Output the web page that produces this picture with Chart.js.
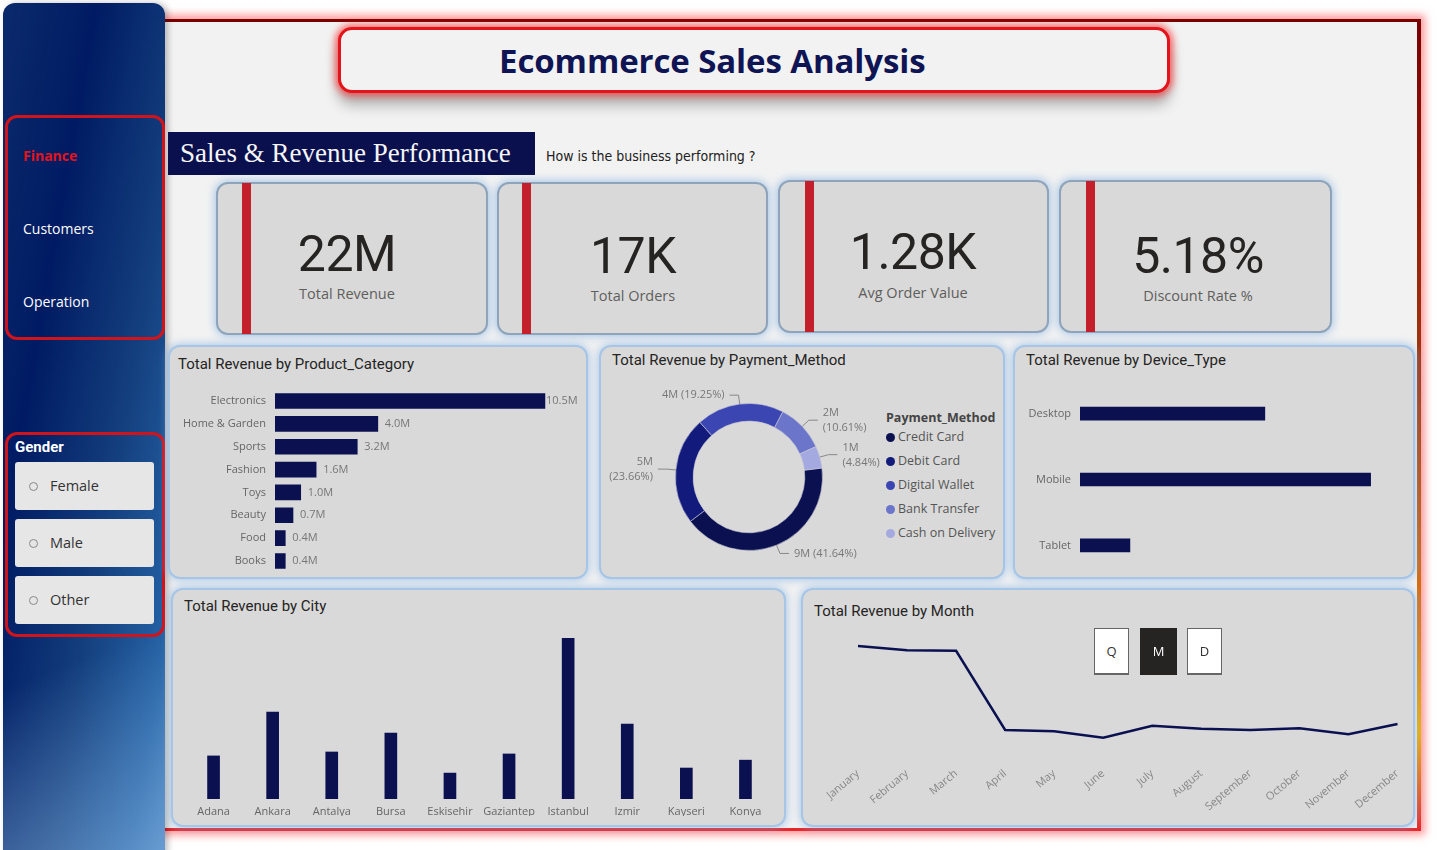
<!DOCTYPE html>
<html>
<head>
<title>Ecommerce Sales Analysis</title>
<script src="https://cdn.jsdelivr.net/npm/chart.js"></script>
<style>
    body { margin: 0; width: 1438px; height: 850px; background: #ffffff; position: relative; overflow: hidden; font-family: 'Roboto', sans-serif; }
    .abs { position: absolute; }
    .sidebar { left: 3px; top: 3px; width: 162px; height: 860px; border-radius: 12px;
        background: linear-gradient(100deg, #0b2a6c 0%, #001b63 30%, #143f7e 62%, #2563a6 88%, #3f7dbd 100%);
        box-shadow: 3px 0 6px rgba(0,0,0,0.25); }
    .sidebar-glow { left: 3px; top: 500px; width: 162px; height: 360px; border-radius: 12px;
        background: linear-gradient(160deg, rgba(255,255,255,0) 45%, rgba(160,200,240,0.45) 100%); }
    .redbox { border: 3px solid #d0141c; border-radius: 12px; box-sizing: border-box; }
    .nav { color: #fff; font-family: 'Open Sans', sans-serif; font-size: 14px; left: 23px; }
    .main { left: 162px; top: 19px; width: 1259px; height: 812px; background: #f2f2f2; box-sizing: border-box;
        border: 3px solid #e8262c; border-top-color: #7a0000; border-left: none;
        box-shadow: 0 0 8px 4px rgba(255,70,70,0.55); }
    .rightedge { left: 1417px; top: 19px; width: 4px; height: 812px;
        background: linear-gradient(180deg, #7a0000 0%, #a43a10 45%, #e07a10 75%, #f2b400 88%, #e8262c 100%); }
    .titlebox { left: 338px; top: 27px; width: 832px; height: 66px; background: #f2f2f2; border: 3px solid #e3141c;
        border-radius: 14px; box-sizing: border-box; box-shadow: 0 0 7px 3px rgba(255,40,40,0.65), 0 12px 14px rgba(0,0,0,0.28); }
    .title { left: 499px; top: 38px; font-family: 'Open Sans', sans-serif; font-weight: 700; font-size: 33px; color: #0f1454; letter-spacing: -0.1px; }
    .banner { left: 168px; top: 132px; width: 367px; height: 43px; background: #0a0f4e; color: #f5f5f5;
        font-family: 'Liberation Serif', serif; font-size: 27px; line-height: 42px; padding-left: 12px; box-sizing: border-box; }
    .question { left: 546px; top: 148px; font-family: 'DejaVu Sans Condensed', sans-serif; font-size: 14px; color: #222; }
    .card { background: #d9d9d9; border-radius: 10px; box-sizing: border-box;
        box-shadow: 0 0 0 2px #8fa4ba, 0 0 8px 3px rgba(120,170,225,0.65); }
    .redbar { width: 9px; background: #c4202c; }
    .kval { font-family: 'Roboto', sans-serif; font-size: 50px; color: #252423; text-align: center; width: 268px; letter-spacing: -0.5px; }
    .klab { font-family: 'Open Sans', sans-serif; font-size: 14.5px; color: #605e5c; text-align: center; width: 268px; }
    .panel { background: #d9d9d9; border-radius: 10px; box-sizing: border-box;
        box-shadow: 0 0 0 2px #a7c6e6, 0 0 8px 3px rgba(120,170,225,0.6); }
    .ptitle { font-family: 'Roboto', sans-serif; font-size: 15px; color: #252423; }
    .gbtn { left: 15px; width: 139px; height: 48px; background: #e6e6e6; border-radius: 3px; }
    .gbtn span.dot { position: absolute; left: 14px; top: 20px; width: 7px; height: 7px; border: 1px solid #888; border-radius: 50%; }
    .gbtn span.txt { position: absolute; left: 35px; top: 14px; font-family: 'Open Sans', sans-serif; font-size: 14.5px; color: #333; }
    .legend-title { left: 886px; top: 409px; font-family: 'Open Sans', sans-serif; font-weight: 700; font-size: 12.5px; color: #444; }
    .legend-item { left: 886px; font-family: 'Open Sans', sans-serif; font-size: 12.5px; color: #555; }
    .legend-item i { display: inline-block; width: 9px; height: 9px; border-radius: 50%; margin-right: 3px; vertical-align: -1px; }
    .qbtn { top: 628px; height: 47px; background: #fff; box-sizing: border-box; border: 1px solid #666; border-bottom-width: 2px;
        font-family: 'Open Sans', sans-serif; font-size: 13px; color: #333; text-align: center; line-height: 45px; }
</style>
</head>
<body>
<div class="abs main"></div>
<div class="abs rightedge"></div>
<div class="abs sidebar"></div>
<div class="abs sidebar-glow"></div>

<div class="abs redbox" style="left:5px; top:115px; width:160px; height:225px;"></div>
<div class="abs nav" style="top:146px; color:#e3141c; font-weight:700;">Finance</div>
<div class="abs nav" style="top:219px;">Customers</div>
<div class="abs nav" style="top:292px;">Operation</div>

<div class="abs redbox" style="left:5px; top:432px; width:160px; height:205px;"></div>
<div class="abs" style="left:15px; top:438px; color:#fff; font-family:'Roboto',sans-serif; font-weight:700; font-size:15px;">Gender</div>
<div class="abs gbtn" style="top:462px;"><span class="dot"></span><span class="txt">Female</span></div>
<div class="abs gbtn" style="top:519px;"><span class="dot"></span><span class="txt">Male</span></div>
<div class="abs gbtn" style="top:576px;"><span class="dot"></span><span class="txt">Other</span></div>

<div class="abs titlebox"></div>
<div class="abs title">Ecommerce Sales Analysis</div>
<div class="abs banner">Sales &amp; Revenue Performance</div>
<div class="abs question">How is the business performing ?</div>

<div class="abs card" style="left:218px; top:184px; width:268px; height:149px;"></div>
<div class="abs redbar" style="left:242px; top:183px; height:151px;"></div>
<div class="abs kval" style="left:213px; top:225px;">22M</div>
<div class="abs klab" style="left:213px; top:284px;">Total Revenue</div>

<div class="abs card" style="left:499px; top:184px; width:267px; height:149px;"></div>
<div class="abs redbar" style="left:522px; top:183px; height:151px;"></div>
<div class="abs kval" style="left:499px; top:227px;">17K</div>
<div class="abs klab" style="left:499px; top:286px;">Total Orders</div>

<div class="abs card" style="left:780px; top:182px; width:267px; height:149px;"></div>
<div class="abs redbar" style="left:805px; top:181px; height:151px;"></div>
<div class="abs kval" style="left:779px; top:223px;">1.28K</div>
<div class="abs klab" style="left:779px; top:283px;">Avg Order Value</div>

<div class="abs card" style="left:1061px; top:182px; width:269px; height:149px;"></div>
<div class="abs redbar" style="left:1086px; top:181px; height:151px;"></div>
<div class="abs kval" style="left:1064px; top:227px;">5.18%</div>
<div class="abs klab" style="left:1064px; top:286px;">Discount Rate %</div>

<div class="abs panel" style="left:170px; top:347px; width:416px; height:230px;"></div>
<div class="abs ptitle" style="left:178px; top:355px;">Total Revenue by Product_Category</div>
<div class="abs panel" style="left:601px; top:347px; width:402px; height:230px;"></div>
<div class="abs ptitle" style="left:612px; top:351px;">Total Revenue by Payment_Method</div>
<div class="abs panel" style="left:1015px; top:347px; width:398px; height:230px;"></div>
<div class="abs ptitle" style="left:1026px; top:351px;">Total Revenue by Device_Type</div>
<div class="abs panel" style="left:173px; top:590px; width:611px; height:235px;"></div>
<div class="abs ptitle" style="left:184px; top:597px;">Total Revenue by City</div>
<div class="abs panel" style="left:803px; top:590px; width:610px; height:235px;"></div>
<div class="abs ptitle" style="left:814px; top:602px;">Total Revenue by Month</div>

<div class="abs legend-title">Payment_Method</div>
<div id="legend"></div>

<div class="abs" style="left:175px; top:374px; width:410px; height:214px;"><canvas id="categoryChart"></canvas></div>
<div class="abs" style="left:603px; top:372px; width:280px; height:205px;"><canvas id="paymentChart"></canvas></div>
<div class="abs" style="left:1015px; top:365px; width:385px; height:229px;"><canvas id="deviceChart"></canvas></div>
<div class="abs" style="left:184px; top:616px; width:591px; height:200px;"><canvas id="cityChart"></canvas></div>
<div class="abs" style="left:808px; top:631px; width:602px; height:184px;"><canvas id="monthChart"></canvas></div>

<div class="abs qbtn" style="left:1094px; width:35px;">Q</div>
<div class="abs qbtn" style="left:1140px; width:37px; background:#252423; color:#fff; border-color:#252423;">M</div>
<div class="abs qbtn" style="left:1187px; width:35px;">D</div>

<script>
    // data (revenue in millions)
    const categoryLabels = ['Electronics', 'Home & Garden', 'Sports', 'Fashion', 'Toys', 'Beauty', 'Food', 'Books'];
    const categoryRevenue = [10.5, 4.0, 3.2, 1.6, 1.0, 0.7, 0.4, 0.4];

    const paymentLabels = ['Credit Card', 'Debit Card', 'Digital Wallet', 'Bank Transfer', 'Cash on Delivery'];
    const paymentRevenue = [9.161, 5.205, 4.235, 2.334, 1.065];

    const deviceLabels = ['Desktop', 'Mobile', 'Tablet'];
    const deviceRevenue = [7.74, 12.17, 2.09];

    const cityLabels = ['Adana', 'Ankara', 'Antalya', 'Bursa', 'Eskisehir', 'Gaziantep', 'Istanbul', 'Izmir', 'Kayseri', 'Konya'];
    const cityRevenue = [1.53, 3.09, 1.67, 2.34, 0.92, 1.60, 5.71, 2.66, 1.10, 1.38];

    const monthLabels = ['January', 'February', 'March', 'April', 'May', 'June', 'July', 'August', 'September', 'October', 'November', 'December'];
    const monthRevenue = [2.95, 2.88, 2.87, 1.55, 1.53, 1.42, 1.62, 1.57, 1.55, 1.58, 1.48, 1.65];

    const navy = '#0b1150';
    const paymentColors = ['#0b1150', '#121b7c', '#3b46b2', '#6b75c9', '#a4aae0'];

    Chart.defaults.font.family = "'Open Sans', sans-serif";
    Chart.defaults.font.size = 11;
    Chart.defaults.color = '#666';
    Chart.defaults.animation = false;
    Chart.defaults.plugins.legend.display = false;
    Chart.defaults.plugins.tooltip.enabled = false;

    // legend for payment method
    let legendHtml = '';
    paymentLabels.forEach(function (lab, i) {
        const top = 428 + i * 24;
        legendHtml += '<div class="abs legend-item" style="top:' + top + 'px;"><i style="background:' + paymentColors[i] + '"></i>' + lab + '</div>';
    });
    document.getElementById('legend').innerHTML = legendHtml;

    // value labels at bar ends
    const barValueLabels = {
        id: 'barValueLabels',
        afterDatasetsDraw(chart) {
            const ctx = chart.ctx;
            const meta = chart.getDatasetMeta(0);
            ctx.save();
            ctx.font = "11px 'Open Sans', sans-serif";
            ctx.fillStyle = '#777';
            ctx.textBaseline = 'middle';
            meta.data.forEach(function (bar, i) {
                const v = chart.data.datasets[0].data[i];
                ctx.fillText(v.toFixed(1) + 'M', bar.x + (i === 0 ? 1 : 7), bar.y);
            });
            ctx.restore();
        }
    };

    // outside labels with leader lines for the doughnut
    const donutLabels = {
        id: 'donutLabels',
        afterDatasetsDraw(chart) {
            const ctx = chart.ctx;
            const data = chart.data.datasets[0].data;
            const total = data.reduce((a, b) => a + b, 0);
            ctx.save();
            ctx.font = "11px 'Open Sans', sans-serif";
            ctx.fillStyle = '#777';
            ctx.strokeStyle = '#888';
            ctx.lineWidth = 1;
            ctx.textBaseline = 'middle';
            chart.getDatasetMeta(0).data.forEach(function (arc, i) {
                const mid = (arc.startAngle + arc.endAngle) / 2;
                const cx = Math.cos(mid), sy = Math.sin(mid);
                const r = arc.outerRadius;
                const x0 = arc.x + cx * r, y0 = arc.y + sy * r;
                const x1 = arc.x + cx * (r + 9), y1 = arc.y + sy * (r + 9);
                const side = cx >= 0 ? 1 : -1;
                const x2 = x1 + side * 9;
                ctx.beginPath();
                ctx.moveTo(x0, y0);
                ctx.lineTo(x1, y1);
                ctx.lineTo(x2, y1);
                ctx.stroke();
                ctx.textAlign = side > 0 ? 'left' : 'right';
                const val = Math.round(data[i]) + 'M';
                const pct = '(' + (data[i] / total * 100).toFixed(2) + '%)';
                const tx = x2 + side * 5;
                if (Math.abs(cx) > 0.5) {
                    ctx.fillText(val, tx, y1 - 7);
                    ctx.fillText(pct, tx, y1 + 8);
                } else {
                    ctx.fillText(val + ' ' + pct, tx, y1);
                }
            });
            ctx.restore();
        }
    };

    // product category
    new Chart(document.getElementById('categoryChart'), {
        type: 'bar',
        data: {
            labels: categoryLabels,
            datasets: [{ data: categoryRevenue, backgroundColor: navy, barThickness: 15 }]
        },
        options: {
            indexAxis: 'y',
            responsive: true,
            maintainAspectRatio: false,
            layout: { padding: { right: 10 } },
            scales: {
                x: { display: false, min: 0, max: 11.67 },
                y: {
                    grid: { display: false, drawTicks: false },
                    border: { display: false },
                    ticks: { padding: 9, color: '#666' },
                    afterFit(scale) { scale.width = 100; }
                }
            }
        },
        plugins: [barValueLabels]
    });

    // payment method
    new Chart(document.getElementById('paymentChart'), {
        type: 'doughnut',
        data: {
            labels: paymentLabels,
            datasets: [{ data: paymentRevenue, backgroundColor: paymentColors, borderWidth: 1, borderColor: 'rgba(200,200,215,0.6)' }]
        },
        options: {
            responsive: true,
            maintainAspectRatio: false,
            rotation: 83,
            cutout: '76%',
            layout: { padding: { left: 72, right: 60, top: 31, bottom: 26 } }
        },
        plugins: [donutLabels]
    });

    // device type
    new Chart(document.getElementById('deviceChart'), {
        type: 'bar',
        data: {
            labels: deviceLabels,
            datasets: [{ data: deviceRevenue, backgroundColor: navy, barThickness: 13 }]
        },
        options: {
            indexAxis: 'y',
            responsive: true,
            maintainAspectRatio: false,
            scales: {
                x: { display: false, min: 0, max: 13.4 },
                y: {
                    grid: { display: false, drawTicks: false },
                    border: { display: false },
                    ticks: { padding: 9, color: '#666' },
                    afterFit(scale) { scale.width = 65; }
                }
            }
        }
    });

    // city
    new Chart(document.getElementById('cityChart'), {
        type: 'bar',
        data: {
            labels: cityLabels,
            datasets: [{ data: cityRevenue, backgroundColor: navy, barThickness: 12 }]
        },
        options: {
            responsive: true,
            maintainAspectRatio: false,
            scales: {
                y: { display: false, min: 0, max: 6.5 },
                x: {
                    grid: { display: false, drawTicks: false },
                    border: { display: false },
                    ticks: { padding: 6, color: '#666', maxRotation: 0 },
                    afterFit(scale) { scale.height = 17; }
                }
            }
        }
    });

    // month
    new Chart(document.getElementById('monthChart'), {
        type: 'line',
        data: {
            labels: monthLabels,
            datasets: [{ data: monthRevenue, borderColor: navy, borderWidth: 2.5, pointRadius: 0, tension: 0, fill: false }]
        },
        options: {
            responsive: true,
            maintainAspectRatio: false,
            layout: { padding: { left: 50, right: 12 } },
            scales: {
                y: { display: false, min: 1.0, max: 3.2 },
                x: {
                    grid: { display: false, drawTicks: false },
                    border: { display: false },
                    ticks: { padding: 4, color: '#888', minRotation: 40, maxRotation: 40 },
                    afterFit(scale) { scale.height = 52; }
                }
            }
        }
    });
</script>
</body>
</html>
